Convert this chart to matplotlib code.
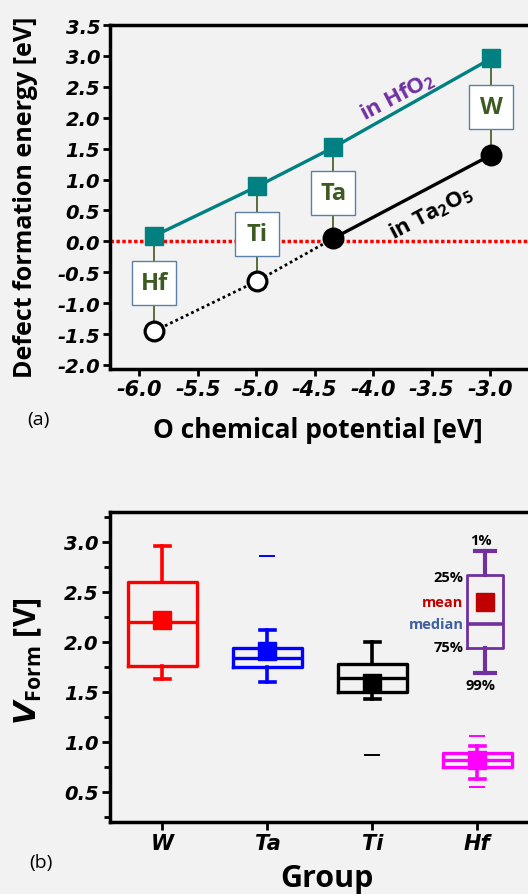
import numpy as np
import matplotlib.pyplot as plt

plt.rcParams['axes.unicode_minus'] = False
plt.rcParams['mathtext.fontset'] = 'custom'
plt.rcParams['mathtext.it'] = 'DejaVu Sans:bold:italic'
plt.rcParams['mathtext.bf'] = 'Open Sans:bold'
plt.rcParams['mathtext.rm'] = 'Open Sans:bold'

bg = '#f2f2f2'
lab_font = 'Open Sans'

# (a) defect formation energy vs O chemical potential
metals = ['Hf', 'Ti', 'Ta', 'W']
mu_O = [-5.87, -4.99, -4.34, -2.99]
e_hfo2 = [0.09, 0.89, 1.52, 2.96]
e_ta2o5 = [-1.45, -0.64, 0.05, 1.40]

# (b) forming voltage box plots
groups = ['W', 'Ta', 'Ti', 'Hf']
box_colors = ['#ff0000', '#0000ff', '#000000', '#ff00ff']
whislo = [1.63, 1.60, 1.43, 0.63]
q1 = [1.76, 1.75, 1.50, 0.75]
med = [2.20, 1.84, 1.64, 0.82]
q3 = [2.60, 1.94, 1.78, 0.89]
whishi = [2.96, 2.12, 2.00, 0.96]
means = [2.22, 1.91, 1.59, 0.82]
fliers = [[], [2.86], [0.87], [0.55, 1.06]]

# key box drawn inside panel (b)
key_stats = dict(whislo=1.69, q1=1.94, med=2.18, q3=2.67, whishi=2.91, mean=2.40, fliers=[])
key_labels = ['25%', 'mean', 'median', '75%']
key_label_y = [2.65, 2.40, 2.18, 1.95]
key_label_col = ['black', '#c00000', '#3f5f9f', 'black']

fig = plt.figure(figsize=(5.28, 8.95), dpi=100, facecolor=bg)

# ---------------- panel (a)
ax1 = fig.add_axes([110/528, 1-370/895, 427/528, 344/895])
ax1.set_facecolor(bg)
ax1.axhline(0, color='#ff0000', ls=(0, (1, 0.7)), lw=2.5, zorder=1)

mid = [(a + b) / 2 for a, b in zip(e_hfo2, e_ta2o5)]
for x, lo, hi in zip(mu_O, e_ta2o5, e_hfo2):
    ax1.plot([x, x], [lo, hi], color='#4f6228', lw=1.3, zorder=2)
ax1.plot(mu_O, mid, 's', ms=31, mfc='white', mec='#5a80aa', mew=1.0, zorder=3)
for x, y, m in zip(mu_O, mid, metals):
    ax1.text(x, y, m, ha='center', va='center', fontsize=17, fontweight='bold',
             family=lab_font, color='#3d5a22', zorder=6)

ax1.plot(mu_O, e_hfo2, '-s', color='#008080', lw=2.4, ms=12.5, zorder=4)
ax1.plot(mu_O[:3], e_ta2o5[:3], color='black', ls=(0, (1, 1.1)), lw=2.0, zorder=4)
ax1.plot(mu_O[2:], e_ta2o5[2:], color='black', lw=2.4, zorder=4)
ax1.plot(mu_O[:2], e_ta2o5[:2], 'o', ms=13.5, mfc='white', mec='black', mew=2.3, zorder=5)
ax1.plot(mu_O[2:], e_ta2o5[2:], 'o', ms=13.5, mfc='black', mec='black', mew=2.3, zorder=5)

ax1.text(-3.795, 2.35, r'in HfO$_\mathbf{2}$', rotation=27.7, rotation_mode='anchor',
         ha='center', va='center', fontsize=16, fontweight='bold', family=lab_font,
         color='#7030a0')
ax1.text(-3.51, 0.47, r'in Ta$_\mathbf{2}$O$_\mathbf{5}$', rotation=27.7, rotation_mode='anchor',
         ha='center', va='center', fontsize=16, fontweight='bold', family=lab_font,
         color='black')

ax1.set_xlim(-6.25, -2.6)
ax1.set_ylim(-2.065, 3.5)
xt = np.arange(-6.0, -2.9, 0.5)
yt = np.arange(-2.0, 3.6, 0.5)
ax1.set_xticks(xt)
ax1.set_xticklabels([f'{v:.1f}' for v in xt], fontsize=15, fontweight='bold', style='italic')
ax1.set_yticks(yt)
ax1.set_yticklabels([f'{v:.1f}' for v in yt], fontsize=14, fontweight='bold', style='italic')
ax1.tick_params(direction='out', length=5, width=2, pad=2)
for s in ax1.spines.values():
    s.set_linewidth(2.5)

fig.text(26/528, 1-197/895, 'Defect formation energy [eV]', rotation=90, ha='center',
         va='center', fontsize=18, fontweight='bold', family=lab_font)
fig.text(318/528, 1-430/895, 'O chemical potential [eV]', ha='center', va='center',
         fontsize=19, fontweight='bold', family=lab_font)
fig.text(38/528, 1-420/895, '(a)', ha='center', va='center', fontsize=14, family=lab_font)

# ---------------- panel (b)
ax2 = fig.add_axes([110/528, 1-823/895, 423/528, 310/895])
ax2.set_facecolor(bg)
for i, c in enumerate(box_colors):
    st = dict(whislo=whislo[i], q1=q1[i], med=med[i], q3=q3[i], whishi=whishi[i],
              mean=means[i], fliers=fliers[i])
    ax2.bxp([st], positions=[i + 1], widths=0.66, capwidths=0.14, showmeans=True,
            manage_ticks=False,
            boxprops=dict(color=c, lw=2.4),
            medianprops=dict(color=c, lw=2.4),
            whiskerprops=dict(color=c, lw=2.6),
            capprops=dict(color=c, lw=2.6),
            flierprops=dict(marker='_', mec=c, ms=11, mew=1.4),
            meanprops=dict(marker='s', mfc=c, mec=c, ms=12.5))

kc = '#7030a0'
ax2.bxp([key_stats], positions=[4.07], widths=0.34, capwidths=0.19, showmeans=True,
        manage_ticks=False,
        boxprops=dict(color=kc, lw=2.0),
        medianprops=dict(color=kc, lw=2.6),
        whiskerprops=dict(color=kc, lw=3.0),
        capprops=dict(color=kc, lw=3.0),
        meanprops=dict(marker='s', mfc='#c00000', mec='#c00000', ms=12.5))
for t, y, c in zip(key_labels, key_label_y, key_label_col):
    ax2.text(3.87, y, t, ha='right', va='center', fontsize=10.5, fontweight='bold',
             family=lab_font, color=c)
ax2.text(4.03, 3.02, '1%', ha='center', va='center', fontsize=10.5, fontweight='bold',
         family=lab_font)
ax2.text(4.03, 1.57, '99%', ha='center', va='center', fontsize=10.5, fontweight='bold',
         family=lab_font)

ax2.set_xlim(0.5, 4.53)
ax2.set_ylim(0.2, 3.3)
ax2.set_xticks([1, 2, 3, 4])
ax2.set_xticklabels(groups, fontsize=15, fontweight='bold', style='italic')
yt2 = np.arange(0.5, 3.1, 0.5)
ax2.set_yticks(yt2)
ax2.set_yticklabels([f'{v:.1f}' for v in yt2], fontsize=14, fontweight='bold', style='italic')
ax2.set_yticks(np.arange(0.25, 3.3, 0.5), minor=True)
ax2.tick_params(direction='out', length=6, width=2, pad=2)
ax2.tick_params(which='minor', direction='out', length=4, width=2)
for s in ax2.spines.values():
    s.set_linewidth(2.5)

fig.text(28/528, 1-661/895, r'$V_{\mathbf{Form}}$ [V]', rotation=90, ha='center',
         va='center', fontsize=22, fontweight='bold', family=lab_font)
fig.text(327/528, 1/895, 'Group', ha='center', va='bottom', fontsize=22,
         fontweight='bold', family=lab_font)
fig.text(41/528, 1-863/895, '(b)', ha='center', va='center', fontsize=14, family=lab_font)

fig.savefig('out.png', dpi=100, facecolor=bg)
